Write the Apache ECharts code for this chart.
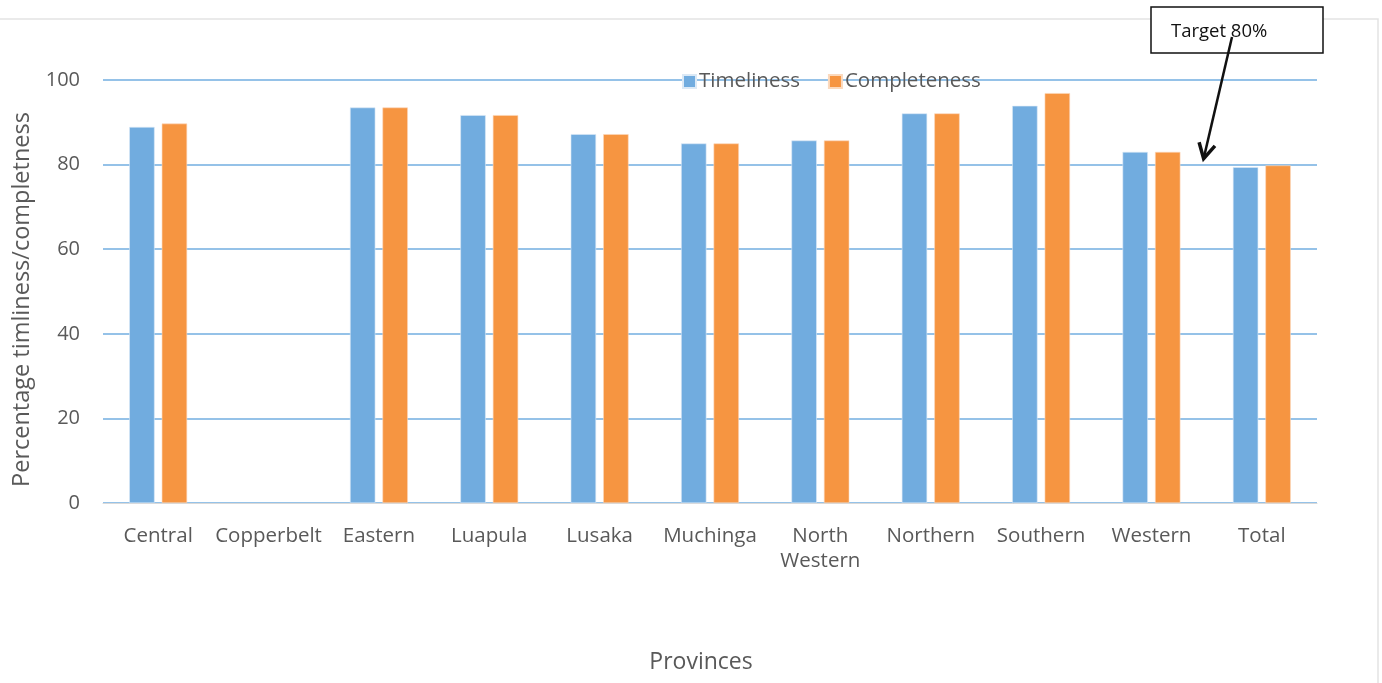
<!DOCTYPE html>
<html>
<head>
<meta charset="utf-8">
<script src="https://cdn.jsdelivr.net/npm/echarts@6/dist/echarts.min.js"></script>
<style>
  html, body { margin: 0; padding: 0; background: #fff; }
  #chart { width: 1382px; height: 683px; }
</style>
</head>
<body>
<div id="chart"></div>
<script>
// Provinces and reporting rates (%)
const provinces = ['Central', 'Copperbelt', 'Eastern', 'Luapula', 'Lusaka', 'Muchinga',
  'North\nWestern', 'Northern', 'Southern', 'Western', 'Total'];
const timeliness = [88.9, null, 93.5, 91.7, 87.2, 85.0, 85.7, 92.1, 93.9, 83.0, 79.4];
const completeness = [89.7, null, 93.5, 91.7, 87.2, 85.0, 85.7, 92.1, 96.9, 83.0, 79.8];
const yTicks = [0, 20, 40, 60, 80, 100];
const targetValue = 80;
const targetLabel = 'Target 80%';

const font = 'Open Sans, Liberation Sans, sans-serif';
const grey = '#595959';

const chart = echarts.init(document.getElementById('chart'));

const option = {
  animation: false,
  backgroundColor: '#fff',
  grid: { left: 103, right: 65, top: 80, bottom: 180, containLabel: false },
  legend: {
    data: ['Timeliness', 'Completeness'],
    left: 677, top: 66,
    itemWidth: 13, itemHeight: 13, itemGap: 28,
    icon: 'rect',
    textStyle: { color: grey, fontSize: 20.5, fontFamily: font, padding: [0, 0, 0, -2] }
  },
  xAxis: {
    type: 'category',
    data: provinces,
    name: 'Provinces',
    nameLocation: 'middle',
    nameGap: 148,
    nameTextStyle: { color: grey, fontSize: 23, fontFamily: font, padding: [0, 18, 0, 0] },
    axisLine: { lineStyle: { color: '#d9d9d9', width: 1 } },
    axisTick: { show: false },
    axisLabel: { color: grey, fontSize: 20.5, fontFamily: font, margin: 21, lineHeight: 25, interval: 0 }
  },
  yAxis: {
    type: 'value',
    min: yTicks[0], max: yTicks[yTicks.length - 1], interval: 20,
    name: 'Percentage timliness/completness',
    nameLocation: 'middle',
    nameGap: 60,
    nameTextStyle: { color: grey, fontSize: 23.5, fontFamily: font, padding: [0, 16, 0, 0] },
    axisLine: { show: false },
    axisTick: { show: false },
    axisLabel: { color: grey, fontSize: 20, fontFamily: font, margin: 23 },
    splitLine: { lineStyle: { color: '#72aee0', width: 1.5 } }
  },
  series: [
    {
      name: 'Timeliness', type: 'bar', data: timeliness,
      barWidth: '23%', barGap: '28%',
      itemStyle: { color: '#71acdf', borderColor: '#dbe9f6', borderWidth: 0.6 }
    },
    {
      name: 'Completeness', type: 'bar', data: completeness,
      barWidth: '23%',
      itemStyle: { color: '#f69541', borderColor: '#fbd9bd', borderWidth: 0.6 }
    }
  ]
};
chart.setOption(option);

// Frame, target callout box and arrow pointing at the 80% line
const last = provinces.length - 1;
const tipA = chart.convertToPixel({ xAxisIndex: 0, yAxisIndex: 0 }, [last - 1, targetValue]);
const tipB = chart.convertToPixel({ xAxisIndex: 0, yAxisIndex: 0 }, [last, targetValue]);
const tipX = (tipA[0] + tipB[0]) / 2 - 3;
const tipY = tipA[1] - 6;
const startX = 1232, startY = 37;
const ang = Math.atan2(tipY - startY, tipX - startX);
const headLen = 17, headSpread = 0.5;
const h1 = [tipX - headLen * Math.cos(ang - headSpread), tipY - headLen * Math.sin(ang - headSpread)];
const h2 = [tipX - headLen * Math.cos(ang + headSpread), tipY - headLen * Math.sin(ang + headSpread)];

chart.setOption({
  graphic: [
    {
      type: 'rect', z: 0, silent: true,
      shape: { x: -2, y: 19, width: 1380, height: 700 },
      style: { fill: 'none', stroke: '#e3e3e3', lineWidth: 1.5 }
    },
    {
      type: 'rect', z: 100,
      shape: { x: 1151, y: 7, width: 172, height: 46 },
      style: { fill: '#fff', stroke: '#111', lineWidth: 1.5 }
    },
    {
      type: 'text', z: 101,
      x: 1171, y: 22,
      style: { text: targetLabel, fill: '#111', font: '18.5px ' + font }
    },
    {
      type: 'line', z: 102,
      shape: { x1: startX, y1: startY, x2: tipX, y2: tipY },
      style: { stroke: '#111', lineWidth: 2.5 }
    },
    {
      type: 'polyline', z: 102,
      shape: { points: [h1, [tipX, tipY], h2] },
      style: { stroke: '#111', lineWidth: 3.5, fill: 'none', lineJoin: 'miter' }
    }
  ]
});
</script>
</body>
</html>
